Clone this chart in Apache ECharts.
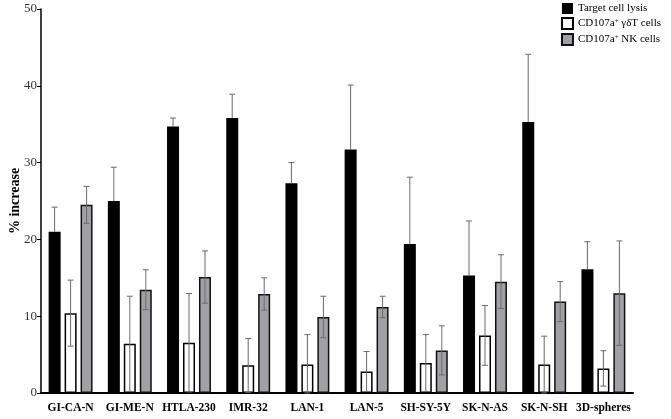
<!DOCTYPE html>
<html>
<head>
<meta charset="utf-8">
<script src="https://cdn.jsdelivr.net/npm/echarts@6/dist/echarts.min.js"></script>
<style>
  html, body { margin: 0; padding: 0; background: #fff; }
  #chart { width: 671px; height: 419px; }
</style>
</head>
<body>
<div id="chart"></div>
<script>
// data
const categories = ["GI-CA-N", "GI-ME-N", "HTLA-230", "IMR-32", "LAN-1", "LAN-5", "SH-SY-5Y", "SK-N-AS", "SK-N-SH", "3D-spheres"];
const lysis = [21.0, 25.0, 34.7, 35.8, 27.3, 31.7, 19.4, 15.3, 35.3, 16.1];
const lysisErr = [3.2, 4.4, 1.1, 3.1, 2.7, 8.4, 8.7, 7.1, 8.8, 3.6];
const gdT = [10.4, 6.4, 6.55, 3.6, 3.7, 2.8, 3.9, 7.5, 3.7, 3.2];
const gdTErr = [4.3, 6.2, 6.4, 3.5, 3.9, 2.6, 3.7, 3.9, 3.7, 2.3];
const nk = [24.5, 13.45, 15.1, 12.9, 9.9, 11.2, 5.55, 14.5, 11.9, 13.0];
const nkErr = [2.4, 2.6, 3.4, 2.1, 2.7, 1.4, 3.2, 3.5, 2.6, 6.8];

const serif = "'Liberation Serif', 'DejaVu Serif', serif";
const barW = 12;
const gap = 4;

// error bar drawn as a custom series, offset to sit on its bar
function errSeries(vals, errs, offset, both) {
  return {
    type: "custom",
    silent: true,
    z: 5,
    data: vals.map((v, i) => [i, v, errs[i]]),
    renderItem: function (params, api) {
      const i = api.value(0);
      const v = api.value(1);
      const e = api.value(2);
      const top = api.coord([i, v + e]);
      const bot = api.coord([i, both ? Math.max(v - e, 0) : v]);
      const x = top[0] + offset;
      const style = { stroke: "#6b6b6b", lineWidth: 1 };
      const cap = 3;
      const kids = [
        { type: "line", shape: { x1: x, y1: top[1], x2: x, y2: bot[1] }, style: style },
        { type: "line", shape: { x1: x - cap, y1: top[1], x2: x + cap, y2: top[1] }, style: style }
      ];
      if (both) {
        kids.push({ type: "line", shape: { x1: x - cap, y1: bot[1], x2: x + cap, y2: bot[1] }, style: style });
      }
      return { type: "group", children: kids };
    }
  };
}

const chart = echarts.init(document.getElementById("chart"));
chart.setOption({
  animation: false,
  backgroundColor: "#fff",
  grid: { left: 41, right: 38, top: 9, bottom: 26 },
  legend: {
    orient: "vertical",
    right: 5,
    top: -2,
    itemWidth: 11,
    itemHeight: 11,
    itemGap: 3,
    icon: "rect",
    data: ["Target cell lysis", "CD107a+ γδT cells", "CD107a+ NK cells"],
    formatter: function (name) {
      return name.replace("+", "{sup|+}");
    },
    textStyle: {
      fontFamily: serif,
      fontSize: 11,
      color: "#000",
      rich: { sup: { fontSize: 7, verticalAlign: "top", padding: [0, 0, 5, 0], fontFamily: serif } }
    }
  },
  xAxis: {
    type: "category",
    data: categories,
    axisLine: { lineStyle: { color: "#000", width: 2 } },
    axisTick: { alignWithLabel: true, length: 5, lineStyle: { color: "#000", width: 1.5 } },
    axisLabel: { interval: 0, fontFamily: serif, fontWeight: "bold", fontSize: 11.5, color: "#000", margin: 9 }
  },
  yAxis: {
    type: "value",
    min: 0,
    max: 50,
    interval: 10,
    name: "% increase",
    nameLocation: "middle",
    nameGap: 19,
    nameMoveOverlap: false,
    nameTextStyle: { fontFamily: serif, fontWeight: "bold", fontSize: 14, color: "#000" },
    splitLine: { show: false },
    axisLine: { show: true, lineStyle: { color: "#000", width: 1.5 } },
    axisTick: { show: true, length: 4, lineStyle: { color: "#000" } },
    axisLabel: { fontFamily: serif, fontSize: 13, color: "#333", margin: 4 }
  },
  series: [
    {
      name: "Target cell lysis",
      type: "bar",
      data: lysis,
      barWidth: barW,
      barGap: "33%",
      itemStyle: { color: "#000" }
    },
    {
      name: "CD107a+ γδT cells",
      type: "bar",
      data: gdT,
      barWidth: barW,
      barGap: "33%",
      itemStyle: { color: "#fff", borderColor: "#000", borderWidth: 1.5 }
    },
    {
      name: "CD107a+ NK cells",
      type: "bar",
      data: nk,
      barWidth: barW,
      barGap: "33%",
      itemStyle: { color: "#a1a1a5", borderColor: "#111", borderWidth: 1.5 }
    },
    errSeries(lysis, lysisErr, -(barW + gap), false),
    errSeries(gdT, gdTErr, 0, true),
    errSeries(nk, nkErr, barW + gap, true)
  ]
});
</script>
</body>
</html>
